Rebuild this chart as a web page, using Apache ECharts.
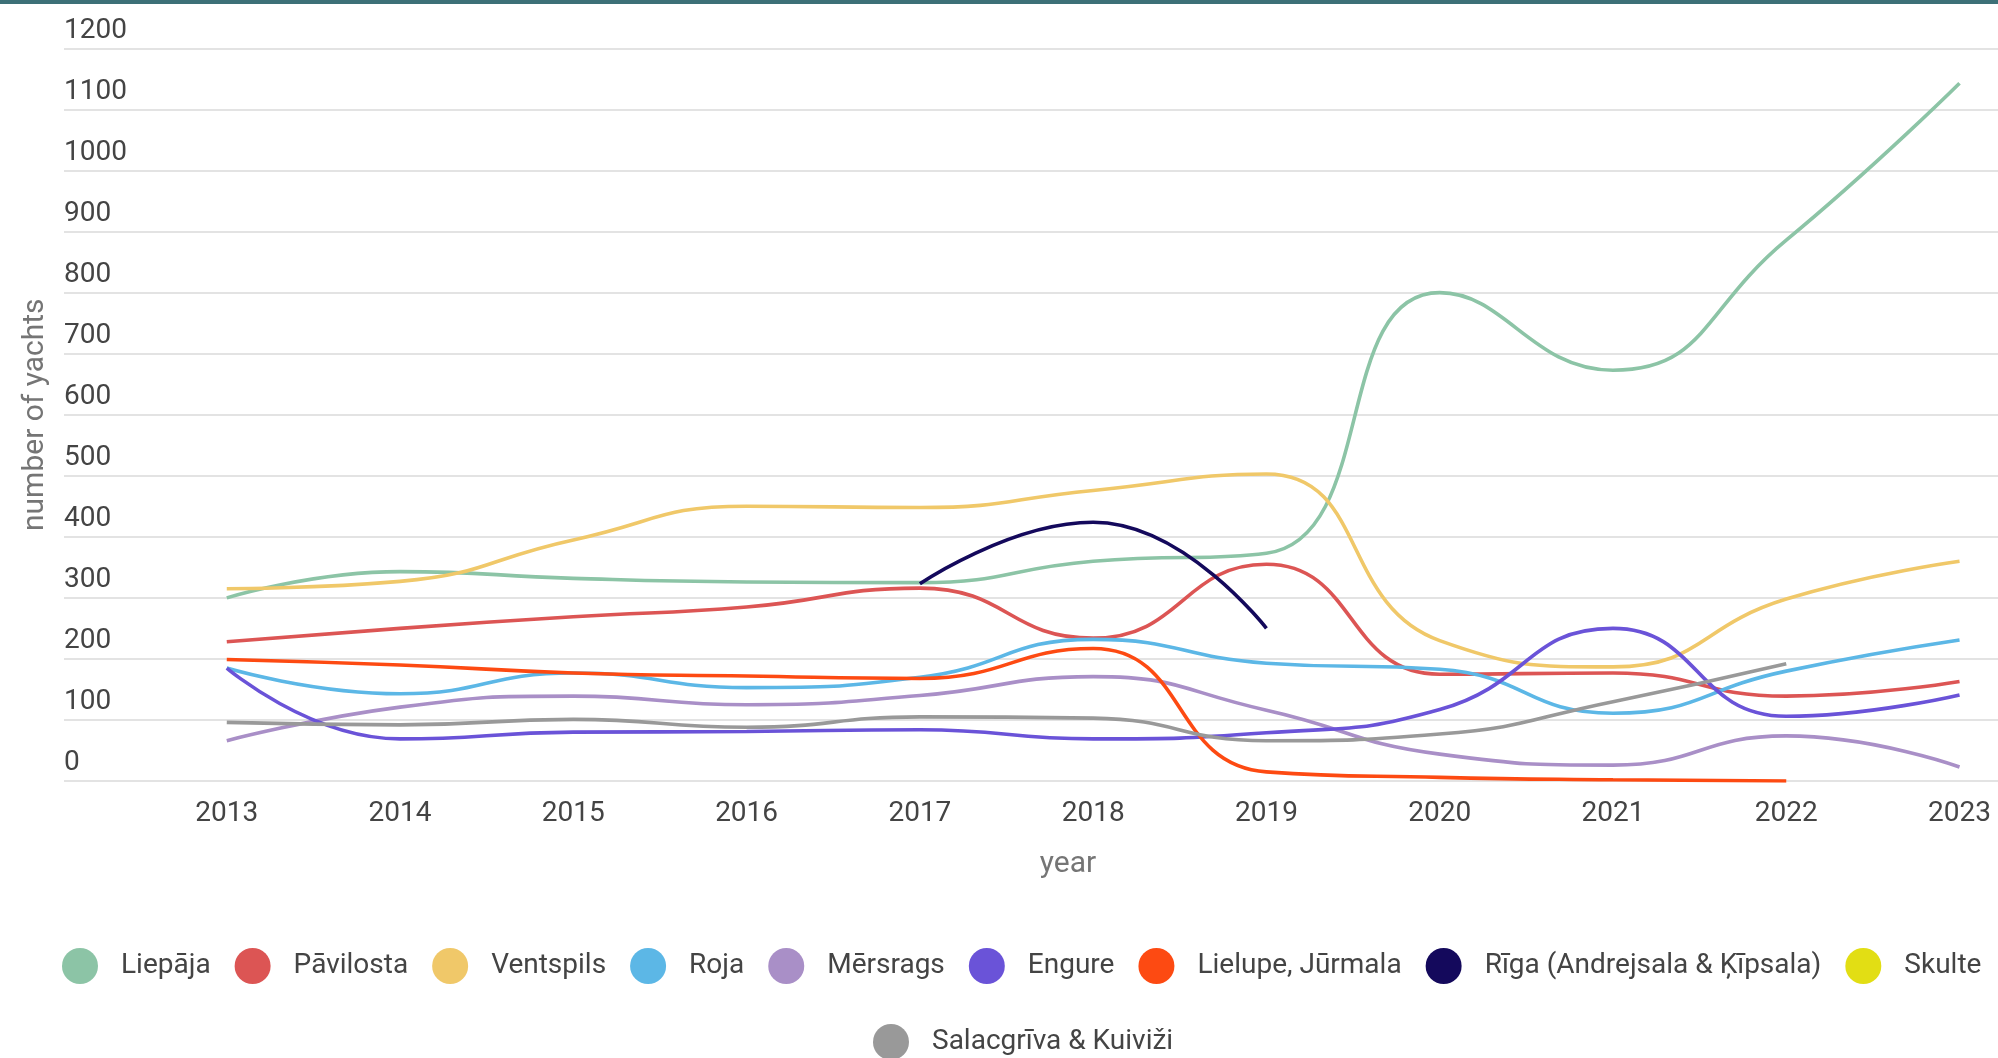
<!DOCTYPE html>
<html>
<head>
<meta charset="utf-8">
<script src="https://cdn.jsdelivr.net/npm/echarts@6/dist/echarts.min.js"></script>
<style>
  html, body { margin: 0; padding: 0; background: #fff; }
  #chart { width: 1998px; height: 1058px; }
</style>
</head>
<body>
<div id="chart"></div>
<script>
const years = [2013, 2014, 2015, 2016, 2017, 2018, 2019, 2020, 2021, 2022, 2023];

const liepaja    = [300, 343, 332, 326, 325, 360, 373, 800, 673, 886, 1143];
const pavilosta  = [228, 250, 269, 285, 316, 234, 355, 175, 177, 139, 163];
const ventspils  = [315, 327, 395, 450, 448, 476, 503, 230, 187, 298, 360];
const roja       = [185, 143, 177, 153, 170, 232, 193, 183, 111, 180, 231];
const mersrags   = [66, 121, 139, 125, 140, 171, 116, 44, 26, 74, 23];
const engure     = [185, 69, 80, 81, 84, 69, 79, 117, 250, 106, 141];
const lielupe    = [199, 190, 177, 172, 168, 217, 15, 6, 2, 0, null];
const riga       = [null, null, null, null, 323, 424, 250, null, null, null, null];
const skulte     = [null, null, null, null, null, null, null, null, null, null, null];
const salacgriva = [96, 92, 101, 88, 105, 103, 66, 77, 130, 192, null];

const seriesNames = ['Liepāja', 'Pāvilosta', 'Ventspils', 'Roja', 'Mērsrags', 'Engure',
  'Lielupe, Jūrmala', 'Rīga (Andrejsala & Ķīpsala)', 'Skulte', 'Salacgrīva & Kuiviži'];
const seriesValues = [liepaja, pavilosta, ventspils, roja, mersrags, engure, lielupe, riga, skulte, salacgriva];
const seriesColors = ['#8cc4a6', '#dc5554', '#f0c869', '#5cb7e6', '#a98fc7', '#6a53d8',
  '#fd4a12', '#14095c', '#e2de14', '#999999'];

const yTicks = [0, 100, 200, 300, 400, 500, 600, 700, 800, 900, 1000, 1100, 1200];

const chart = echarts.init(document.getElementById('chart'), null, { renderer: 'canvas' });

const series = seriesNames.map((name, k) => ({
  name: name,
  type: 'line',
  smooth: 0.5,
  symbol: 'none',
  showSymbol: false,
  color: seriesColors[k],
  lineStyle: { width: 3.6, color: seriesColors[k] },
  itemStyle: { color: seriesColors[k] },
  data: years.map((y, i) => [y, seriesValues[k][i]]).filter(d => d[1] !== null)
}));

const legendText = { fontFamily: 'Roboto', fontSize: 28, color: '#444444', padding: [0, 0, 0, 18] };

chart.setOption({
  animation: false,
  backgroundColor: '#ffffff',
  textStyle: { fontFamily: 'Roboto' },
  graphic: [{
    type: 'rect',
    left: 0, top: 0,
    shape: { width: 1998, height: 4 },
    style: { fill: '#3d7077' },
    z: 100
  }],
  grid: { left: 64, right: 0, top: 48.5, bottom: 277, containLabel: false },
  xAxis: {
    type: 'value',
    min: 2012.0606,
    max: 2023.222,
    name: 'year',
    nameLocation: 'middle',
    nameGap: 68,
    nameTextStyle: { fontFamily: 'Roboto', fontSize: 30, color: '#757575', padding: [0, 0, 0, 74] },
    axisLine: { show: false },
    axisTick: { show: false },
    splitLine: { show: false },
    axisLabel: {
      customValues: years,
      formatter: v => String(v),
      fontFamily: 'Roboto', fontSize: 28, color: '#444444', margin: 19
    }
  },
  yAxis: {
    type: 'value',
    min: 0, max: 1200, interval: 100,
    name: 'number of yachts',
    nameLocation: 'middle',
    nameGap: 14,
    nameTextStyle: { fontFamily: 'Roboto', fontSize: 30, color: '#757575' },
    axisLine: { show: false },
    axisTick: { show: false },
    splitLine: { show: true, lineStyle: { color: '#e3e3e3', width: 2 } },
    axisLabel: {
      inside: true,
      customValues: yTicks,
      formatter: v => String(v),
      align: 'left',
      verticalAlign: 'bottom',
      margin: 0,
      padding: [0, 0, 4, 0],
      fontFamily: 'Roboto', fontSize: 28, color: '#444444'
    }
  },
  legend: [{
    data: seriesNames.slice(0, 9),
    left: 62, top: 948,
    orient: 'horizontal',
    icon: 'circle',
    itemWidth: 36, itemHeight: 36,
    itemGap: 24,
    padding: 0,
    textStyle: legendText
  }, {
    data: seriesNames.slice(9),
    left: 873, top: 1024,
    orient: 'horizontal',
    icon: 'circle',
    itemWidth: 36, itemHeight: 36,
    itemGap: 24,
    padding: 0,
    textStyle: legendText
  }],
  series: series
});
</script>
</body>
</html>
